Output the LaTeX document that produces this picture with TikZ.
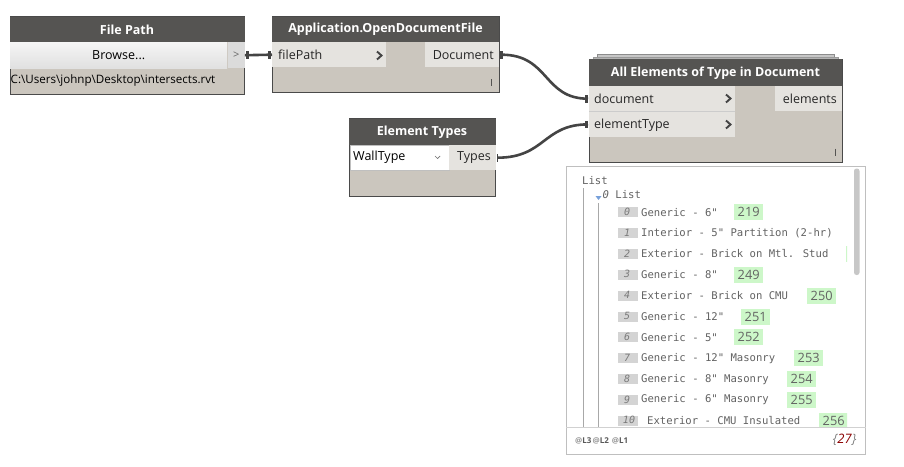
\documentclass[tikz,border=0pt]{standalone}
\usepackage{fontspec}
\setmainfont{Open Sans}
\newfontfamily\monofont{DejaVu Sans Mono}
\usetikzlibrary{calc}
\definecolor{hdr}{HTML}{555452}
\definecolor{bodybg}{HTML}{CBC6BE}
\definecolor{portbg}{HTML}{E5E3DF}
\definecolor{nodeborder}{HTML}{4A4A4A}
\definecolor{wirec}{HTML}{444444}
\definecolor{listtxt}{HTML}{626262}
\definecolor{idxtxt}{HTML}{7A7A7A}
\definecolor{idxbg}{HTML}{D4D4D4}
\definecolor{greenbg}{HTML}{CDF7C9}
\definecolor{darkredc}{HTML}{8B0000}
\definecolor{treeline}{HTML}{A8A8A8}
\tikzset{
  nodebody/.style={draw=nodeborder, line width=0.8pt, fill=bodybg},
  hdrfill/.style={fill=hdr},
  titletext/.style={text=white, font=\bfseries\fontsize{12.5}{14}\selectfont, inner sep=0pt},
  portbox/.style={fill=portbg, inner sep=0pt, minimum height=25pt, anchor=north west},
  porttext/.style={font=\fontsize{12.5}{14}\selectfont, text=black!85, inner sep=0pt},
  chev/.style={draw=wirec, line width=1.9pt, line cap=butt, line join=miter},
  wirestyle/.style={draw=wirec, line width=2.6pt},
  blob/.style={fill=wirec},
  ibar/.style={draw=hdr, line width=0.9pt},
  listmono/.style={font=\monofont\fontsize{10.6}{12}\selectfont, text=listtxt, inner sep=0pt, anchor=west},
  idxbox/.style={fill=idxbg, minimum width=20pt, minimum height=10pt, inner sep=0pt, anchor=west},
  idxnum/.style={font=\monofont\itshape\fontsize{10}{12}\selectfont, text=idxtxt, inner sep=0pt},
  greenbox/.style={fill=greenbg, minimum width=29pt, minimum height=16pt, inner sep=0pt, anchor=west,
     font=\fontsize{12.8}{14}\selectfont, text=listtxt},
}
\begin{document}
\begin{tikzpicture}[x=1pt,y=-1pt]
\useasboundingbox[fill=white] (0,0) rectangle (904,466);

% ---------------- File Path ----------------
\draw[nodebody] (10,16.5) rectangle (244.5,94);
\fill[hdrfill] (10,16.5) rectangle (244.5,42);
\node[titletext] (fpTitle) at (127,29.5) {File Path};
\node[anchor=north west, minimum width=217pt, minimum height=26pt, inner sep=0pt,
      top color=white!96!black, bottom color=white!88!black,
      font=\fontsize{12.5}{14}\selectfont] (browse) at (10,42) {Browse...};
\node[anchor=north west, minimum width=17pt, minimum height=26pt, inner sep=0pt,
      fill=white!86!black, text=black!60, font=\fontsize{11}{13}\selectfont] (fpOut) at (227.5,42) {>};
\node[anchor=west, inner sep=0pt, font=\fontsize{11.6}{14}\selectfont] (fpPath) at (10.5,80.5) {C:\textbackslash Users\textbackslash johnp\textbackslash Desktop\textbackslash intersects.rvt};

% ---------------- Application.OpenDocumentFile ----------------
\draw[nodebody] (272,16.5) rectangle (499,92);
\fill[hdrfill] (272,16.5) rectangle (499,42);
\node[titletext] (appTitle) at (385.5,29.5) {Application.OpenDocumentFile};
\node[portbox, minimum width=114pt] (filePath) at (272,42) {};
\node[porttext, anchor=west] at (278,55) {filePath};
\draw[chev] (377,51.5) -- (381.5,55.5) -- (377,59.5);
\node[portbox, minimum width=73.5pt, anchor=north east] (docOut) at (499,42) {};
\node[porttext, anchor=east] at (494,55) {Document};
\draw[ibar] (491.7,79) -- (491.7,85.5);

% ---------------- All Elements of Type in Document ----------------
\draw[draw=black!45, fill=black!22] (597,54) rectangle (834,60);
\draw[draw=black!40, fill=black!30] (593,56.7) rectangle (838,60);
\draw[nodebody] (589,59) rectangle (842,162);
\fill[hdrfill] (589,59) rectangle (842,86);
\node[titletext] (aeTitle) at (715.5,73) {All Elements of Type in Document};
\node[portbox, minimum width=146pt] (docIn) at (589,86) {};
\node[porttext, anchor=west] at (594,99) {document};
\draw[chev] (726,94.5) -- (730.5,98.5) -- (726,102.5);
\draw[draw=white!80!black, line width=0.6pt] (589,111.3) -- (735,111.3);
\node[portbox, minimum width=146pt] (etIn) at (589,111.7) {};
\node[porttext, anchor=west] at (594,125) {elementType};
\draw[chev] (726,120.5) -- (730.5,124.5) -- (726,128.5);
\node[portbox, minimum width=67pt, anchor=north east] (elOut) at (842,86) {};
\node[porttext, anchor=east] at (837,99) {elements};
\draw[ibar] (835,148.5) -- (835,155.5);

% ---------------- Element Types ----------------
\draw[nodebody] (349,118.5) rectangle (495.5,196.5);
\fill[hdrfill] (349,118.5) rectangle (495.5,145);
\node[titletext] (etTitle) at (422,132) {Element Types};
\node[anchor=north west, minimum width=99pt, minimum height=25pt, inner sep=0pt,
      fill=white, draw=black!25] (dropdown) at (349.5,145) {};
\node[porttext, anchor=west, text=black] at (353,157.5) {WallType};
\draw[draw=black!55, line width=0.7pt] (435,156) -- (437.5,158.5) -- (440,156);
\node[portbox, minimum width=47pt] (typesOut) at (448.5,145) {};
\node[porttext, anchor=east] at (491,158) {Types};

% ---------------- Wires ----------------
\draw[wirestyle] (fpOut.east) -- (filePath.west);
\draw[wirestyle] ($(docOut.east)+(2.5,0)$) .. controls +(48,0) and +(-45,0) .. ($(docIn.west)+(-1,0)$);
\draw[wirestyle] ($(typesOut.east)+(1.5,0)$) .. controls +(48,0) and +(-45,0) .. ($(etIn.west)+(-1,0)$);
\foreach \p/\d in {fpOut.east/3, filePath.west/-3, docOut.east/3, docIn.west/-3, typesOut.east/2, etIn.west/-3}{
  \fill[blob] ($(\p)+(\d*0.4,-3.8)$) rectangle ($(\p)+(\d*1.2,3.8)$);
}

% ---------------- List preview ----------------
\draw[draw=black!25, fill=white, line width=0.8pt] (566,166.5) rectangle (865.5,454);
\draw[draw=black!18, line width=0.8pt] (566,427) -- (865.5,427);
\node[listmono] (listHead) at (582,181) {List};
\draw[treeline, line width=0.7pt] (583.5,188) -- (583.5,427);
\fill[fill=cyan!50!blue!55!white] (595.5,196) -- (601.5,196) -- (598.5,200) -- cycle;
\node[listmono] (subHead) at (602.5,195) {\itshape 0\upshape{} List};
\draw[treeline, line width=0.7pt] (598.5,203) -- (598.5,427);
\begin{scope}
\clip (567,167) rectangle (847,426.5);
\foreach \i/\t/\gx/\gv in {
  0/{Generic - 6"}/734/219,
  1/{Interior - 5" Partition (2-hr)}/851/248,
  2/{Exterior - Brick on Mtl. Stud}/846/248,
  3/{Generic - 8"}/734/249,
  4/{Exterior - Brick on CMU}/807/250,
  5/{Generic - 12"}/741/251,
  6/{Generic - 5"}/734/252,
  7/{Generic - 12" Masonry}/794/253,
  8/{Generic - 8" Masonry}/787/254,
  9/{Generic - 6" Masonry}/787/255}{
  \pgfmathsetmacro{\yy}{212.3+20.85*\i}
  \node[idxbox] (idx\i) at (617.3,\yy) {};
  \node[idxnum] at (627,\yy-0.5) {\i};
  \node[listmono] (item\i) at (641,\yy) {\t};
  \node[greenbox] (val\i) at (\gx,\yy) {\gv};
}
\node[idxbox, minimum width=20pt] (idx10) at (617.3,420.8) {};
\node[idxnum] at (629,420.3) {10};
\node[listmono] (item10) at (647,420.8) {Exterior - CMU Insulated};
\node[greenbox] (val10) at (819,420.8) {256};
\end{scope}
% scrollbar
\fill[black!22, rounded corners=2.5pt] (854,168.5) rectangle (859.5,275);
% footer
\node[anchor=west, inner sep=0pt, font=\bfseries\fontsize{8}{9}\selectfont] (levels) at (575,440.5)
  {\textcolor{black!40}{@}\textcolor{black!65}{L3}\hspace{1.2pt}\textcolor{black!40}{@}\textcolor{black!65}{L2}\hspace{3pt}\textcolor{black!40}{@}\textcolor{black!65}{L1}};
\node[anchor=east, inner sep=0pt, font=\itshape\fontsize{13}{15}\selectfont] (count) at (856.5,440)
  {\textcolor{black!50}{\{}\textcolor{darkredc}{27}\textcolor{black!50}{\}}};
\end{tikzpicture}
\end{document}
